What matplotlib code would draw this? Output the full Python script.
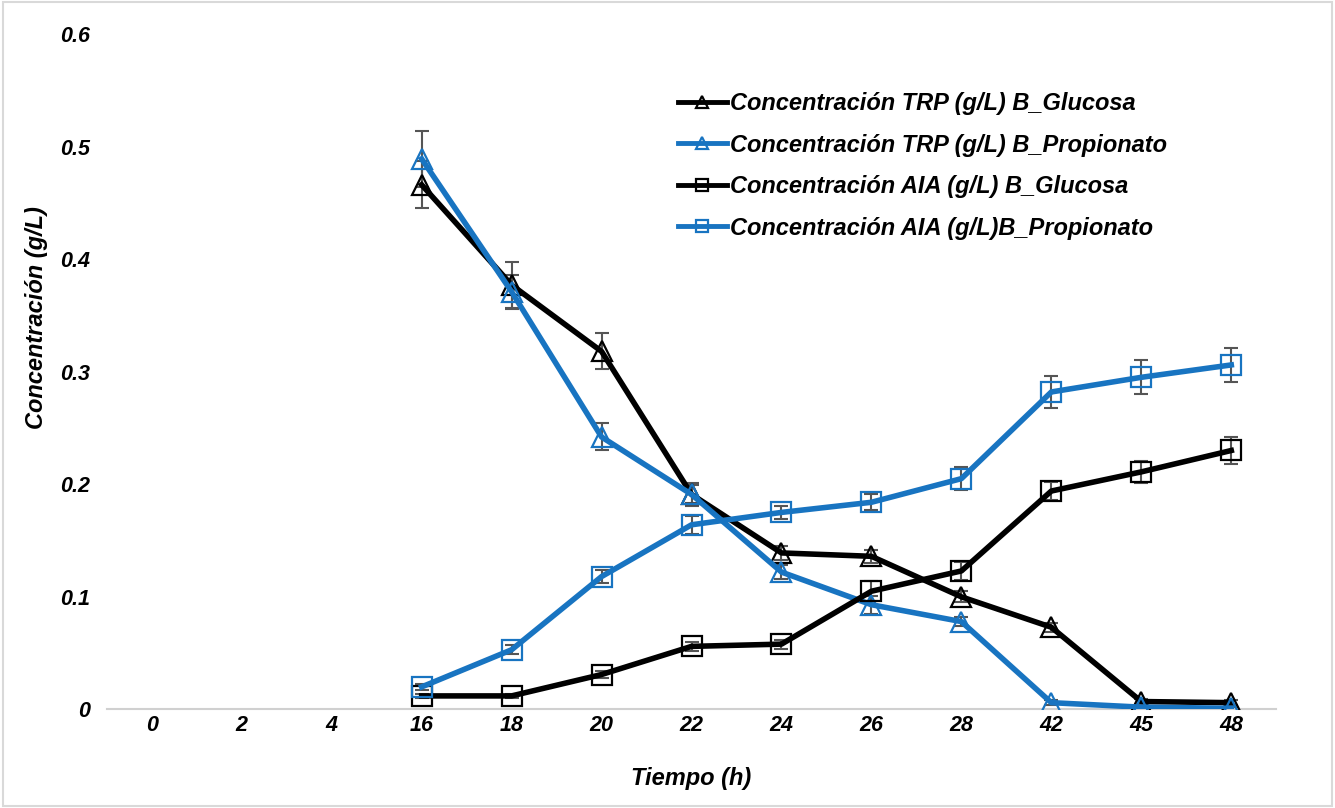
import matplotlib.pyplot as plt
import numpy as np

plt.rcParams['font.family'] = ['Liberation Sans', 'DejaVu Sans']

tiempo = ['0', '2', '4', '16', '18', '20', '22', '24', '26', '28', '42', '45', '48']

# values from 16 h on (first three times have no data)
trp_glucosa = [0.466, 0.377, 0.318, 0.191, 0.139, 0.136, 0.100, 0.073, 0.007, 0.006]
trp_glucosa_err = [0.021, 0.020, 0.016, 0.010, 0.006, 0.006, 0.005, 0.004, 0.002, 0.002]

trp_propionato = [0.489, 0.371, 0.242, 0.191, 0.122, 0.093, 0.078, 0.006, 0.002, 0.001]
trp_propionato_err = [0.025, 0.015, 0.012, 0.008, 0.006, 0.008, 0.004, 0.002, 0.001, 0.001]

aia_glucosa = [0.012, 0.012, 0.031, 0.056, 0.058, 0.105, 0.123, 0.194, 0.211, 0.230]
aia_glucosa_err = [0.002, 0.002, 0.003, 0.004, 0.004, 0.009, 0.008, 0.008, 0.010, 0.012]

aia_propionato = [0.020, 0.053, 0.118, 0.164, 0.175, 0.184, 0.205, 0.282, 0.295, 0.306]
aia_propionato_err = [0.003, 0.004, 0.006, 0.008, 0.006, 0.007, 0.010, 0.014, 0.015, 0.015]

labels = ['Concentración TRP (g/L) B_Glucosa',
          'Concentración TRP (g/L) B_Propionato',
          'Concentración AIA (g/L) B_Glucosa',
          'Concentración AIA (g/L)B_Propionato']

negro = '#000000'
azul = '#1874c1'

fig = plt.figure(figsize=(13.35, 8.08), dpi=100)
ax = fig.add_axes([0.080, 0.122, 0.876, 0.836])

x = np.arange(3, len(tiempo))

series = [
    (trp_glucosa, trp_glucosa_err, negro, '^', 15),
    (trp_propionato, trp_propionato_err, azul, '^', 15),
    (aia_glucosa, aia_glucosa_err, negro, 's', 14),
    (aia_propionato, aia_propionato_err, azul, 's', 14),
]

handles = []
for (vals, err, col, mk, ms), lab in zip(series, labels):
    ax.errorbar(x, vals, yerr=err, fmt='none', ecolor='#555555',
                elinewidth=1.5, capsize=5, capthick=1.5, zorder=2)
    h, = ax.plot(x, vals, color=col, linewidth=4, marker=mk, markersize=ms,
                 markerfacecolor='none', markeredgecolor=col,
                 markeredgewidth=1.6, label=lab, zorder=3)
    handles.append(h)

ax.set_xlim(-0.5, len(tiempo) - 0.5)
ax.set_ylim(0, 0.6)
ax.set_xticks(np.arange(len(tiempo)))
ax.set_xticklabels(tiempo)
ax.set_yticks([0, 0.1, 0.2, 0.3, 0.4, 0.5, 0.6])
ax.set_yticklabels(['0', '0.1', '0.2', '0.3', '0.4', '0.5', '0.6'])

for s in ['top', 'right', 'left']:
    ax.spines[s].set_visible(False)
ax.spines['bottom'].set_color('#d0d0d0')
ax.spines['bottom'].set_linewidth(1.5)
ax.tick_params(length=0, labelsize=15.5)
ax.tick_params(axis='x', pad=4)
ax.tick_params(axis='y', pad=12)
for t in ax.get_xticklabels() + ax.get_yticklabels():
    t.set_fontweight('bold')
    t.set_fontstyle('italic')

ax.set_xlabel('Tiempo (h)', fontsize=17, fontweight='bold', fontstyle='italic', labelpad=22)
ax.set_ylabel('Concentración (g/L)', fontsize=17, fontweight='bold', fontstyle='italic')
ax.yaxis.set_label_coords(-0.05, 0.58)

leg = ax.legend(handles=handles, loc='upper left', bbox_to_anchor=(0.47, 0.945),
                frameon=False, handlelength=2.1, handletextpad=0.1,
                labelspacing=0.78, prop={'size': 17, 'weight': 'bold', 'style': 'italic'})
for lh in leg.get_lines():
    lh.set_markersize(8)
    lh.set_linewidth(3.5)

fig.patches.append(plt.Rectangle((0.002, 0.002), 0.996, 0.996, transform=fig.transFigure,
                                 fill=False, edgecolor='#d9d9d9', linewidth=1.5))

fig.savefig('out.png', dpi=100, facecolor='white')
